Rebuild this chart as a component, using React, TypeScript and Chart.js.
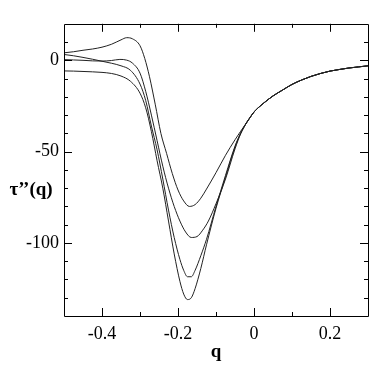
import React, { useEffect, useRef } from "react";
import { Chart, registerables } from "chart.js";

Chart.register(...registerables);

const qC1 = [-0.5, -0.475, -0.45, -0.425, -0.4, -0.375, -0.35, -0.335, -0.32, -0.3, -0.2875, -0.275, -0.26, -0.245, -0.23, -0.215, -0.2, -0.185, -0.17, -0.155, -0.14, -0.125, -0.1, -0.075, -0.05, -0.035];
const tauC1 = [4.1, 4.7, 5.5, 6.2, 7.2, 8.8, 11.2, 12.4, 11.8, 8, 1, -9, -24, -40, -51, -62, -71, -77, -80, -79, -75.5, -70.5, -61.5, -52, -43.5, -38.8];

const qC2 = [-0.5, -0.475, -0.45, -0.425, -0.4, -0.375, -0.353, -0.335, -0.32, -0.3, -0.285, -0.27, -0.255, -0.24, -0.225, -0.21, -0.195, -0.18, -0.165, -0.15, -0.135, -0.12, -0.1, -0.075, -0.05, -0.035];
const tauC2 = [0.4, 0.2, 0, -0.3, -0.4, -0.1, 0.5, 0.1, -1.5, -7, -17, -30, -44, -58, -70, -80, -88, -94, -97, -96.5, -93, -88, -78.5, -65, -48.5, -40.2];

const qC34 = [-0.5, -0.475, -0.45, -0.425, -0.4, -0.375, -0.35, -0.325, -0.3, -0.285, -0.27, -0.255, -0.24, -0.225, -0.21, -0.195, -0.185, -0.175, -0.165, -0.155, -0.14, -0.125, -0.1, -0.075, -0.05, -0.035];
const tauC3 = [3.2, 2.5, 1.6, 0.6, -0.5, -1.6, -3, -5.5, -13, -22, -36, -49, -65, -82, -97, -109, -115, -118.5, -118.5, -115, -107, -98, -80, -63, -47, -39.8];
const tauC4 = [-5.8, -5.9, -6.1, -6.3, -6.6, -7.2, -8.6, -11.5, -18, -26, -39, -55, -70, -88, -106, -121, -128, -131, -130, -125, -114, -101, -81, -64, -47.5, -40];

const qTail = [-0.02, -0.01, 0, 0.025, 0.05, 0.075, 0.1, 0.125, 0.15, 0.175, 0.2, 0.225, 0.25, 0.275, 0.3];
const tauTail = [-34.3, -31.2, -28.3, -23.5, -19.5, -16.3, -13.2, -10.8, -8.8, -7.2, -5.9, -5, -4.2, -3.6, -3.0];

const xTickValues = [-0.4, -0.2, 0, 0.2];
const yTickValues = [-100, -50, 0];
const xMinorValues = [-0.4, -0.3, -0.2, -0.1, 0, 0.1, 0.2];
const yMinorValues = [-130, -120, -110, -100, -90, -80, -70, -60, -50, -40, -30, -20, -10, 0, 10];

const FONT = "'Liberation Serif', 'Times New Roman', serif";

function toPoints(qs: number[], ts: number[]) {
  const pts = qs.map((q, i) => ({ x: q, y: ts[i] }));
  return pts.concat(qTail.map((q, i) => ({ x: q, y: tauTail[i] })));
}

const framePlugin = {
  id: "frameTicks",
  afterDraw(chart: any) {
    const { ctx, chartArea } = chart;
    const { left, right, top, bottom } = chartArea;
    const xs = chart.scales.x;
    const ys = chart.scales.y;
    ctx.save();
    ctx.strokeStyle = "#000";
    ctx.lineWidth = 1;
    ctx.beginPath();
    ctx.rect(Math.round(left) + 0.5, Math.round(top) + 0.5, Math.round(right - left), Math.round(bottom - top));
    ctx.stroke();
    ctx.beginPath();
    xMinorValues.forEach((v) => {
      const major = xTickValues.some((t) => Math.abs(t - v) < 1e-9);
      const len = major ? 8 : 4;
      const px = Math.round(xs.getPixelForValue(v)) + 0.5;
      ctx.moveTo(px, bottom);
      ctx.lineTo(px, bottom - len);
      ctx.moveTo(px, top);
      ctx.lineTo(px, top + len);
    });
    yMinorValues.forEach((v) => {
      const major = yTickValues.some((t) => Math.abs(t - v) < 1e-9);
      const len = major ? 8 : 4;
      const py = Math.round(ys.getPixelForValue(v)) + 0.5;
      ctx.moveTo(left, py);
      ctx.lineTo(left + len, py);
      ctx.moveTo(right, py);
      ctx.lineTo(right - len, py);
    });
    ctx.stroke();
    ctx.fillStyle = "#000";
    ctx.font = "bold 19px " + FONT;
    ctx.textAlign = "center";
    ctx.textBaseline = "middle";
    ctx.fillText("τ’’(q)", 23, 182);
    ctx.restore();
  },
};

export default function App() {
  const ref = useRef<HTMLCanvasElement>(null);
  useEffect(() => {
    if (!ref.current) return;
    const mk = (qs: number[], ts: number[]) => ({
      data: toPoints(qs, ts),
      borderColor: "#222",
      borderWidth: 1,
      pointRadius: 0,
      showLine: true,
      fill: false,
      cubicInterpolationMode: "monotone" as const,
    });
    const chart = new Chart(ref.current, {
      type: "scatter",
      data: {
        datasets: [mk(qC1, tauC1), mk(qC2, tauC2), mk(qC34, tauC3), mk(qC34, tauC4)],
      },
      options: {
        animation: false,
        responsive: false,
        maintainAspectRatio: false,
        layout: { padding: { top: 6, right: 5, left: 0, bottom: 0 } },
        plugins: { legend: { display: false }, tooltip: { enabled: false } },
        scales: {
          x: {
            type: "linear",
            min: -0.5,
            max: 0.3,
            grid: { display: false, drawTicks: false },
            border: { display: false },
            afterBuildTicks: (s: any) => {
              s.ticks = xTickValues.map((v) => ({ value: v }));
            },
            afterFit: (s: any) => {
              s.height = 58;
            },
            ticks: {
              color: "#000",
              font: { family: FONT, size: 18 },
              padding: 7,
              maxRotation: 0,
              callback: (v: any) => String(v),
            },
            title: {
              display: true,
              text: "q",
              color: "#000",
              font: { family: FONT, size: 19, weight: "bold" },
              padding: { top: 0, bottom: 11 },
            },
          },
          y: {
            type: "linear",
            min: -140,
            max: 20,
            grid: { display: false, drawTicks: false },
            border: { display: false },
            afterBuildTicks: (s: any) => {
              s.ticks = yTickValues.map((v) => ({ value: v }));
            },
            afterFit: (s: any) => {
              s.width = 56;
            },
            ticks: {
              color: "#000",
              font: { family: FONT, size: 18 },
              padding: 5,
              callback: (v: any) => String(v),
            },
          },
        },
      },
      plugins: [framePlugin],
    });
    return () => chart.destroy();
  }, []);
  return <canvas ref={ref} width={365} height={366} style={{ display: "block" }} />;
}
